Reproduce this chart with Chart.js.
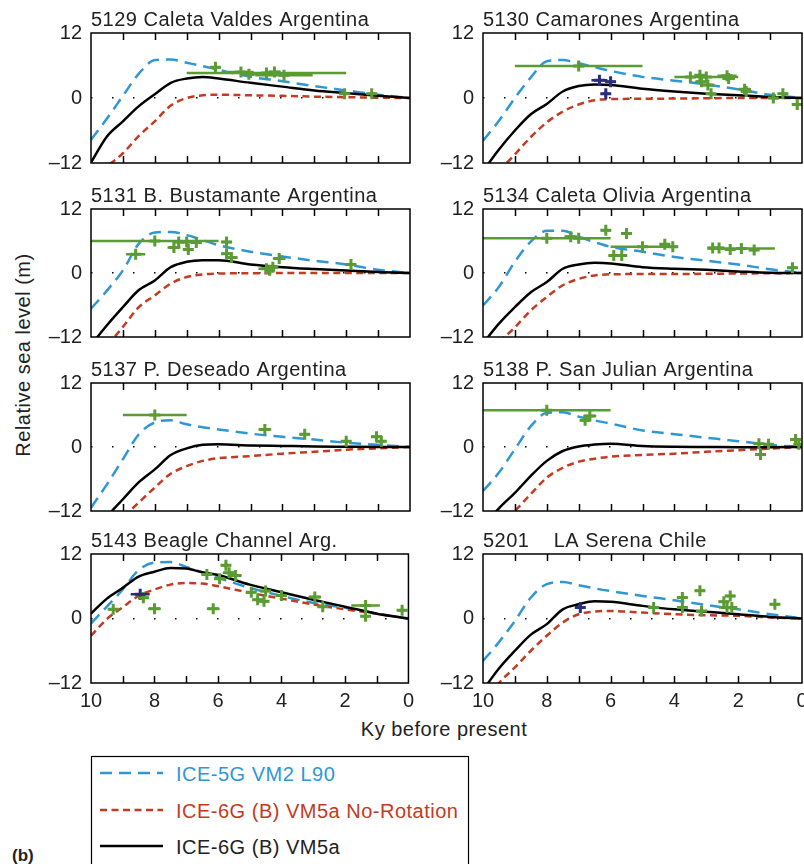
<!DOCTYPE html>
<html>
<head>
<meta charset="utf-8">
<script src="https://cdn.jsdelivr.net/npm/chart.js@4.4.1/dist/chart.umd.min.js"></script>
<style>
    body { margin: 0; background: #fff; }
    #wrap { position: relative; width: 804px; height: 864px; overflow: hidden;
            font-family: "Liberation Sans", Arial, sans-serif; color: #222; }
    #wrap canvas { position: absolute; }
    .lbl { position: absolute; font-size: 20px; letter-spacing: 0.5px; white-space: nowrap; line-height: 22px; }
    #ylab { left: 23px; top: 355px; transform: translate(-50%, -50%) rotate(-90deg); }
    #xlab { left: 444px; top: 718px; transform: translateX(-50%); }
    #tag { left: 12px; top: 845px; font-weight: bold; font-size: 17px; letter-spacing: 0; }
    #legend { position: absolute; left: 0; top: 0; }
</style>
</head>
<body>
<div id="wrap">
    <div class="lbl" id="ylab">Relative sea level (m)</div>
    <div class="lbl" id="xlab">Ky before present</div>
    <div class="lbl" id="tag">(b)</div>
    <svg id="legend" width="804" height="864">
        <rect x="91.5" y="756.5" width="377" height="120" fill="none" stroke="#000" stroke-width="1.2"/>
        <line x1="100" y1="773" x2="163" y2="773" stroke="#2f98d4" stroke-width="2.5" stroke-dasharray="12 7"/>
        <line x1="100" y1="810" x2="163" y2="810" stroke="#c23b22" stroke-width="2.5" stroke-dasharray="7 4.5"/>
        <line x1="100" y1="846" x2="163" y2="846" stroke="#000" stroke-width="2.5"/>
        <text x="176" y="781" font-family="Liberation Sans, Arial" font-size="20" letter-spacing="0.5" fill="#2f98d4">ICE-5G VM2 L90</text>
        <text x="176" y="818" font-family="Liberation Sans, Arial" font-size="20" letter-spacing="0.5" fill="#c23b22">ICE-6G (B) VM5a No-Rotation</text>
        <text x="176" y="854" font-family="Liberation Sans, Arial" font-size="20" letter-spacing="0.5" fill="#222">ICE-6G (B) VM5a</text>
    </svg>
</div>
<script>
// model ages (ky before present), shared by every station
const ages = [10, 9.5, 9, 8.5, 8, 7.5, 7, 6.5, 6, 5, 4, 3, 2, 1, 0];

const titles = [
    '5129 Caleta Valdes Argentina', '5130 Camarones Argentina',
    '5131 B. Bustamante Argentina', '5134 Caleta Olivia Argentina',
    '5137 P. Deseado Argentina', '5138 P. San Julian Argentina',
    '5143 Beagle Channel Arg.', '5201    LA Serena Chile'
];

// ICE-5G VM2 L90
const ice5g_5129 = [-7.7, -3.8, 0.4, 4.5, 7.0, 7.1, 6.5, 5.9, 5.2, 3.9, 3.1, 2.2, 1.4, 0.6, 0];
const ice5g_5130 = [-7.9, -4.2, 0.0, 3.8, 6.8, 7.0, 6.4, 5.7, 5.0, 3.9, 3.2, 2.5, 1.6, 0.6, 0];
const ice5g_5131 = [-6.7, -3.3, 0.5, 5.5, 7.6, 7.7, 7.1, 6.2, 5.2, 4.0, 3.1, 2.3, 1.6, 0.6, 0];
const ice5g_5134 = [-6.1, -2.6, 2.1, 5.9, 7.9, 7.9, 6.8, 5.8, 4.9, 4.0, 3.0, 2.3, 1.6, 0.7, 0];
const ice5g_5137 = [-11.4, -7.0, -2.3, 2.4, 4.6, 5.0, 4.25, 3.7, 3.3, 2.5, 1.9, 1.4, 0.8, 0.4, 0];
const ice5g_5138 = [-8.25, -4.8, -0.4, 3.9, 6.4, 6.5, 5.7, 5.0, 4.4, 3.1, 2.4, 1.75, 1.1, 0.4, 0];
const ice5g_5143 = [-0.9, 2.2, 5.4, 9.0, 10.4, 10.5, 9.6, 8.6, 7.6, 5.7, 4.2, 2.9, 2.0, 0.9, 0];
const ice5g_5201 = [-7.9, -4.4, -0.45, 3.9, 6.4, 6.8, 6.2, 5.6, 5.1, 4.2, 3.4, 2.5, 1.7, 0.8, 0];

// ICE-6G (B) VM5a No-Rotation
const noRot_5129 = [-14.7, -12.6, -10.2, -7.0, -4.3, -1.4, 0.0, 0.5, 0.6, 0.5, 0.4, 0.25, 0.15, 0.05, 0];
const noRot_5130 = [-16.5, -13.5, -10.4, -7.2, -4.5, -2.5, -1.2, -0.4, -0.2, -0.15, -0.1, -0.05, 0, 0, 0];
const noRot_5131 = [-16.5, -13.6, -10.1, -6.4, -4.2, -2.0, -0.75, -0.25, -0.1, -0.05, 0, 0, 0, 0, 0];
const noRot_5134 = [-16.0, -13.0, -10.2, -7.0, -4.5, -2.3, -1.1, -0.45, -0.25, -0.2, -0.2, -0.15, -0.1, -0.05, 0];
const noRot_5137 = [-19.0, -16.0, -13.2, -10.4, -7.6, -5.0, -3.6, -2.6, -2.1, -1.7, -1.25, -0.9, -0.5, -0.25, 0];
const noRot_5138 = [-18.0, -15.0, -12.0, -8.8, -5.75, -3.9, -2.75, -2.2, -1.8, -1.5, -1.25, -0.9, -0.6, -0.3, 0];
const noRot_5143 = [-3.2, -0.1, 2.1, 4.2, 5.4, 6.3, 6.6, 6.5, 6.0, 4.8, 3.7, 2.6, 1.7, 0.9, 0];
const noRot_5201 = [-16.0, -12.0, -9.1, -6.0, -3.2, -0.75, 0.8, 1.3, 1.4, 1.1, 0.8, 0.6, 0.5, 0.2, 0];

// ICE-6G (B) VM5a
const ice6g_5129 = [-11.9, -7.1, -4.3, -1.5, 0.7, 2.8, 3.6, 3.9, 3.6, 2.8, 2.1, 1.4, 0.9, 0.4, 0];
const ice6g_5130 = [-13.5, -9.5, -6.0, -3.0, -1.1, 1.2, 2.2, 2.5, 2.4, 1.7, 1.2, 0.8, 0.5, 0.2, 0];
const ice6g_5131 = [-13.5, -9.8, -6.4, -3.2, -1.4, 1.1, 2.1, 2.4, 2.4, 1.6, 1.1, 0.75, 0.45, 0.2, 0];
const ice6g_5134 = [-13.2, -9.5, -6.4, -3.6, -1.7, 0.8, 1.6, 1.9, 1.8, 1.1, 0.8, 0.6, 0.3, 0.05, 0];
const ice6g_5137 = [-16.5, -13.0, -9.8, -6.6, -4.2, -1.5, -0.25, 0.4, 0.5, 0.3, 0.2, 0.1, 0.05, 0, 0];
const ice6g_5138 = [-15.0, -11.5, -8.6, -5.4, -2.6, -0.75, 0.1, 0.45, 0.6, 0.2, 0.05, 0, -0.05, -0.05, 0];
const ice6g_5143 = [0.9, 3.7, 5.7, 7.8, 8.7, 9.4, 9.3, 8.6, 8.1, 6.3, 4.9, 3.5, 2.2, 0.9, 0];
const ice6g_5201 = [-13.3, -9.3, -6.0, -3.0, -1.05, 1.7, 2.65, 3.2, 3.1, 2.35, 1.7, 1.25, 0.8, 0.3, 0];

// observations: [age, rsl, age error, rsl error]
const obs_5129 = [[4.5, 4.6, 2.5, 0.1], [6.1, 5.7, 0.15, 0.6], [5.3, 4.8, 0.4, 0.3], [5.05, 4.4, 0.2, 0.5],
    [4.25, 4.8, 0.2, 0.4], [3.95, 4.2, 0.9, 0.3], [2.05, 0.8, 0.1, 0.4], [1.2, 0.8, 0.15, 0.3]];
const obs_5130 = [[7.0, 5.9, 2.0, 0.1], [3.0, 3.9, 1.0, 0.1], [3.5, 3.9, 0.15, 0.3], [3.2, 4.2, 0.15, 0.4],
    [2.35, 4.1, 0.3, 0.5], [2.3, 3.6, 0.2, 0.3], [3.15, 3.0, 0.2, 0.4], [2.95, 2.4, 0.2, 0.3],
    [2.85, 0.8, 0.1, 0.4], [1.8, 1.6, 0.2, 0.4], [1.75, 1.2, 0.1, 0.3], [0.9, 0.0, 0.15, 0.4],
    [0.6, 0.8, 0.15, 0.3], [0.15, -1.2, 0.15, 0.4]];
const navy_5130 = [[6.35, 3.3, 0.25, 0.5], [6.0, 3.0, 0.15, 0.5], [6.15, 0.8, 0.1, 0.6]];
const obs_5131 = [[8.0, 6.0, 2.0, 0.1], [8.6, 3.5, 0.3, 0.2], [7.4, 4.8, 0.2, 0.4], [7.25, 5.8, 0.15, 0.5],
    [7.0, 5.8, 0.15, 0.4], [6.95, 4.4, 0.15, 0.4], [6.7, 5.7, 0.15, 0.3], [5.75, 5.8, 0.15, 0.6],
    [5.75, 3.6, 0.15, 0.5], [5.6, 2.9, 0.2, 0.3], [4.5, 0.8, 0.25, 0.4], [4.4, 0.5, 0.15, 0.3],
    [4.3, 1.1, 0.15, 0.3], [4.1, 2.7, 0.2, 0.4], [1.85, 1.6, 0.15, 0.4]];
const obs_5134 = [[8.0, 6.5, 2.0, 0.1], [7.25, 6.8, 0.2, 0.4], [7.0, 6.5, 0.15, 0.3], [6.15, 8.0, 0.15, 0.4],
    [5.5, 7.4, 0.15, 0.3], [5.0, 4.9, 1.0, 0.4], [4.3, 5.4, 0.15, 0.4], [4.05, 4.9, 0.15, 0.3],
    [5.9, 3.3, 0.15, 0.4], [5.65, 3.3, 0.15, 0.3], [1.9, 4.6, 1.05, 0.1], [2.8, 4.7, 0.15, 0.4],
    [2.6, 4.7, 0.15, 0.3], [2.25, 4.4, 0.15, 0.3], [1.5, 4.3, 0.15, 0.4], [0.3, 1.0, 0.15, 0.4]];
const obs_5137 = [[8.0, 6.0, 1.0, 0.1], [4.55, 3.3, 0.2, 0.3], [3.3, 2.4, 0.15, 0.4], [2.0, 1.1, 0.15, 0.3],
    [1.05, 1.9, 0.15, 0.3], [0.9, 1.1, 0.1, 0.3]];
const obs_5138 = [[8.0, 6.9, 2.0, 0.1], [6.8, 5.0, 0.15, 0.3], [6.65, 5.8, 0.2, 0.3], [1.35, 0.6, 0.15, 0.3],
    [1.3, -1.4, 0.1, 0.4], [1.05, 0.5, 0.15, 0.3], [0.2, 1.4, 0.15, 0.4], [0.1, 0.5, 0.15, 0.3]];
const obs_5143 = [[9.3, 1.7, 0.15, 0.3], [8.35, 3.85, 0.15, 0.3], [8.0, 1.8, 0.2, 0.3], [6.15, 1.8, 0.2, 0.3],
    [6.35, 8.2, 0.15, 0.3], [5.95, 7.4, 0.15, 0.3], [5.75, 9.9, 0.15, 0.5], [5.65, 8.5, 0.2, 0.4],
    [5.45, 8.0, 0.2, 0.3], [4.95, 4.9, 0.15, 0.3], [4.75, 3.5, 0.15, 0.3], [4.55, 3.2, 0.15, 0.4],
    [4.5, 5.1, 0.15, 0.3], [4.0, 4.3, 0.15, 0.3], [2.95, 4.0, 0.2, 0.3], [2.7, 2.2, 0.1, 0.3],
    [1.35, 2.4, 0.45, 0.2], [1.35, 0.4, 0.1, 0.3], [0.2, 1.55, 0.15, 0.3]];
const navy_5143 = [[8.45, 4.5, 0.3, 0.2]];
const obs_5201 = [[4.65, 2.05, 0.1, 0.3], [3.75, 3.9, 0.15, 0.4], [3.75, 2.05, 0.15, 0.3], [3.2, 5.15, 0.15, 0.3],
    [3.15, 1.4, 0.1, 0.3], [2.45, 3.1, 0.15, 0.3], [2.35, 2.05, 0.25, 0.3], [2.25, 4.2, 0.15, 0.4],
    [2.2, 2.05, 0.15, 0.3], [0.85, 2.65, 0.15, 0.3]];
const navy_5201 = [[6.95, 2.05, 0.15, 0.5]];

const yTicks = [-12, 0, 12];
const xTicks = [10, 8, 6, 4, 2, 0];

const BLUE = '#2f98d4', RED = '#c23b22', GREEN = '#5a9c33', NAVY = '#2b2c7c';

const panels = [
    { blue: ice5g_5129, red: noRot_5129, black: ice6g_5129, obs: obs_5129, navy: [] },
    { blue: ice5g_5130, red: noRot_5130, black: ice6g_5130, obs: obs_5130, navy: navy_5130 },
    { blue: ice5g_5131, red: noRot_5131, black: ice6g_5131, obs: obs_5131, navy: [] },
    { blue: ice5g_5134, red: noRot_5134, black: ice6g_5134, obs: obs_5134, navy: [] },
    { blue: ice5g_5137, red: noRot_5137, black: ice6g_5137, obs: obs_5137, navy: [] },
    { blue: ice5g_5138, red: noRot_5138, black: ice6g_5138, obs: obs_5138, navy: [] },
    { blue: ice5g_5143, red: noRot_5143, black: ice6g_5143, obs: obs_5143, navy: navy_5143 },
    { blue: ice5g_5201, red: noRot_5201, black: ice6g_5201, obs: obs_5201, navy: navy_5201 }
];

const rowTops = [33, 209, 383, 554];
const rowHeights = [130, 128, 128, 129];

// station name above the frame
const panelTitle = {
    id: 'panelTitle',
    afterDraw(chart, args, opts) {
        const { ctx, chartArea } = chart;
        ctx.save();
        ctx.font = '20px "Liberation Sans", Arial, sans-serif';
        ctx.letterSpacing = '0.5px';
        ctx.fillStyle = '#222';
        ctx.textBaseline = 'alphabetic';
        ctx.fillText(opts.text, chartArea.left, chartArea.top - 7);
        ctx.restore();
    }
};

// box around the plot and inward ticks every 1 ky
const frame = {
    id: 'frame',
    afterDraw(chart) {
        const { ctx, chartArea: a, scales: { x } } = chart;
        ctx.save();
        ctx.strokeStyle = '#000';
        ctx.lineWidth = 1.5;
        ctx.strokeRect(a.left, a.top, a.right - a.left, a.bottom - a.top);
        ctx.beginPath();
        for (let v = 1; v < 10; v++) {
            const px = Math.round(x.getPixelForValue(v)) + 0.5;
            ctx.moveTo(px, a.top); ctx.lineTo(px, a.top + 7);
            ctx.moveTo(px, a.bottom); ctx.lineTo(px, a.bottom - 7);
        }
        ctx.stroke();
        ctx.restore();
    }
};

// age and height uncertainty bars for the sea-level indicators
const errorBars = {
    id: 'errorBars',
    afterDatasetsDraw(chart) {
        const { ctx, chartArea: a, scales: { x, y } } = chart;
        ctx.save();
        ctx.beginPath();
        ctx.rect(a.left, a.top, a.right - a.left, a.bottom - a.top);
        ctx.clip();
        ctx.lineWidth = 2.5;
        chart.data.datasets.forEach(ds => {
            if (!ds.withErrors) return;
            ctx.strokeStyle = ds.borderColor;
            ctx.beginPath();
            ds.data.forEach(d => {
                const py = y.getPixelForValue(d.y), px = x.getPixelForValue(d.x);
                ctx.moveTo(x.getPixelForValue(d.x + d.xe), py);
                ctx.lineTo(x.getPixelForValue(d.x - d.xe), py);
                ctx.moveTo(px, y.getPixelForValue(d.y - d.ye));
                ctx.lineTo(px, y.getPixelForValue(d.y + d.ye));
            });
            ctx.stroke();
        });
        ctx.restore();
    }
};

function curve(vals, color, dash) {
    return {
        data: ages.map((a, i) => ({ x: a, y: vals[i] })),
        borderColor: color,
        borderWidth: 2.5,
        borderDash: dash,
        pointRadius: 0,
        fill: false,
        cubicInterpolationMode: 'monotone'
    };
}

function points(list, color) {
    return {
        data: list.map(o => ({ x: o[0], y: o[1], xe: o[2], ye: o[3] })),
        showLine: false,
        withErrors: true,
        borderColor: color,
        backgroundColor: color,
        pointStyle: 'cross',
        pointRadius: 5.5,
        pointBorderWidth: 3
    };
}

const wrap = document.getElementById('wrap');

panels.forEach((p, i) => {
    const col = i % 2, row = Math.floor(i / 2);
    const bottomRow = row === 3;
    const left = col ? 430 : 40;
    const width = col ? 392 : 380;
    const padRight = col ? 20 : 10;
    const axisW = col ? 53 : 51;
    const xH = bottomRow ? 30 : 0;
    // the y axis keeps half a label plus its padding below the frame
    const padBottom = bottomRow ? 6 : 24;
    const height = 33 + rowHeights[row] + xH + padBottom;

    const cv = document.createElement('canvas');
    cv.width = width;
    cv.height = height;
    cv.style.left = left + 'px';
    cv.style.top = (rowTops[row] - 33) + 'px';
    wrap.appendChild(cv);

    new Chart(cv.getContext('2d'), {
        type: 'line',
        data: {
            datasets: [
                points(p.navy, NAVY),
                points(p.obs, GREEN),
                curve(p.black, '#000', []),
                curve(p.red, RED, [7, 4.5]),
                curve(p.blue, BLUE, [12, 7])
            ]
        },
        options: {
            responsive: false,
            animation: false,
            events: [],
            layout: { padding: { top: 33, right: padRight, bottom: padBottom, left: 0 } },
            plugins: {
                legend: { display: false },
                tooltip: { enabled: false },
                panelTitle: { text: titles[i] }
            },
            scales: {
                x: {
                    type: 'linear',
                    display: bottomRow,
                    min: 0,
                    max: 10,
                    reverse: true,
                    afterBuildTicks: s => { s.ticks = xTicks.map(v => ({ value: v })); },
                    afterFit: s => { s.height = xH; },
                    grid: { display: false, drawTicks: false },
                    border: { display: false },
                    ticks: {
                        padding: 6,
                        maxRotation: 0,
                        autoSkip: false,
                        color: '#222',
                        font: { family: '"Liberation Sans", Arial', size: 20 }
                    }
                },
                y: {
                    min: -12,
                    max: 12,
                    afterBuildTicks: s => { s.ticks = yTicks.map(v => ({ value: v })); },
                    afterFit: s => { s.width = axisW; },
                    grid: {
                        drawTicks: false,
                        lineWidth: 1.5,
                        color: c => (c.tick && c.tick.value === 0) ? '#000' : 'rgba(0,0,0,0)'
                    },
                    border: { display: false, dash: [1.5, 19.5] },
                    ticks: {
                        padding: 9,
                        color: '#222',
                        font: { family: '"Liberation Sans", Arial', size: 20 },
                        callback: v => v < 0 ? '\u2013' + (-v) : String(v)
                    }
                }
            }
        },
        plugins: [panelTitle, frame, errorBars]
    });
});
</script>
</body>
</html>
